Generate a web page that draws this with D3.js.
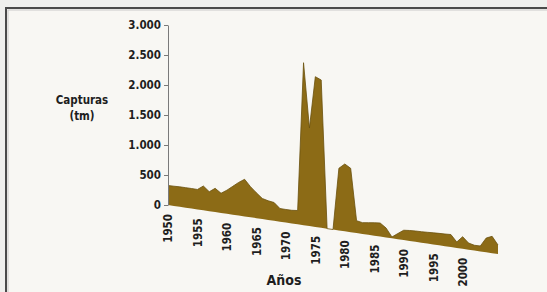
<!DOCTYPE html>
<html>
<head>
<meta charset="utf-8">
<script src="https://cdn.jsdelivr.net/npm/d3@7"></script>
<style>
  html, body { margin: 0; padding: 0; background: #efefed; }
  svg { display: block; }
</style>
</head>
<body>
<svg id="chart" width="547" height="292"></svg>
<script>
// ---- data ----
const years = [1950,1951,1952,1953,1954,1955,1956,1957,1958,1959,
               1960,1961,1962,1963,1964,1965,1966,1967,1968,1969,
               1970,1971,1972,1973,1974,1975,1976,1977,1978,1979,
               1980,1981,1982,1983,1984,1985,1986,1987,1988,1989,
               1990,1991,1992,1993,1994,1995,1996,1997,1998,1999,
               2000,2001,2002,2003,2004,2005,2006];
const capturas = [325,328,332,333,333,332,404,323,395,327,
                  393,472,552,618,509,422,342,318,304,218,
                  217,218,229,2707,1633,2503,2462,0,0,1035,
                  1121,1063,205,187,201,215,225,157,21,93,
                  163,173,179,182,187,193,198,202,208,98,
                  201,110,87,90,237,280,150];
const yTicks = [0,500,1000,1500,2000,2500,3000];
const xTickYears = [1950,1955,1960,1965,1970,1975,1980,1985,1990,1995,2000];
const yTitle = ["Capturas","(tm)"];
const xTitle = "Años";

// ---- layout ----
const svg = d3.select("#chart");
const FONT = "'DejaVu Sans Condensed','DejaVu Sans',sans-serif";

svg.append("rect").attr("x",6).attr("y",8).attr("width",560).attr("height",300)
  .attr("fill","#f8f7f3").attr("stroke","#4a4a4a").attr("stroke-width",2);
svg.append("rect").attr("x",8).attr("y",10).attr("width",560).attr("height",300)
  .attr("fill","none").attr("stroke","#c9c9c9").attr("stroke-width",1);

const x = d3.scaleLinear().domain([1950,2006]).range([168,498]);
const y = d3.scaleLinear().domain([0,3000]).range([205,25]);
const dropTotal = 49; // baseline slant over the full width
const shear = px => (px - x.range()[0]) * dropTotal / (x.range()[1]-x.range()[0]);

const data = years.map((yr,i)=>({yr, v: capturas[i]}));

const area = d3.area()
  .x(d => x(d.yr))
  .y0(d => y(0) + shear(x(d.yr)))
  .y1(d => y(d.v) + shear(x(d.yr)));

svg.append("path").datum(data).attr("d", area)
  .attr("fill","#8c6b16");

const topLine = d3.line()
  .x(d => x(d.yr))
  .y(d => y(d.v) + shear(x(d.yr)));
svg.append("path").datum(data).attr("d", topLine)
  .attr("fill","none").attr("stroke","#6a500c").attr("stroke-width",0.8);

// ---- y axis ----
const loc = d3.formatLocale({decimal:",", thousands:".", grouping:[3], currency:["",""]});
const fmt = loc.format(",");
const yAxis = d3.axisLeft(y).tickValues(yTicks).tickFormat(fmt).tickSize(4).tickSizeOuter(0).tickPadding(3);
const gy = svg.append("g").attr("transform","translate(168,0)").call(yAxis);
gy.select(".domain").attr("stroke","#7a7a7a");
gy.selectAll(".tick line").attr("stroke","#7a7a7a");
gy.selectAll(".tick text").attr("fill","#1e1e1e").attr("font-family",FONT)
  .attr("font-weight","bold").attr("font-size","11.5px");

// ---- x labels along slanted baseline ----
svg.append("g").selectAll("text").data(xTickYears).join("text")
  .attr("transform", d => `translate(${x(d)},${y(0)+shear(x(d))+9}) rotate(-90)`)
  .attr("text-anchor","end").attr("dy","0.38em")
  .attr("font-family",FONT).attr("font-weight","bold").attr("font-size","11.5px")
  .attr("fill","#1e1e1e").text(d => d);

// ---- titles ----
svg.append("text").attr("x",82).attr("y",104).attr("text-anchor","middle")
  .attr("font-family",FONT).attr("font-weight","bold").attr("font-size","11.5px").attr("fill","#1e1e1e")
  .text(yTitle[0]);
svg.append("text").attr("x",82).attr("y",120).attr("text-anchor","middle")
  .attr("font-family",FONT).attr("font-weight","bold").attr("font-size","11.5px").attr("fill","#1e1e1e")
  .text(yTitle[1]);
svg.append("text").attr("x",284).attr("y",285).attr("text-anchor","middle")
  .attr("font-family",FONT).attr("font-weight","bold").attr("font-size","14px").attr("fill","#1e1e1e")
  .text(xTitle);
</script>
</body>
</html>
